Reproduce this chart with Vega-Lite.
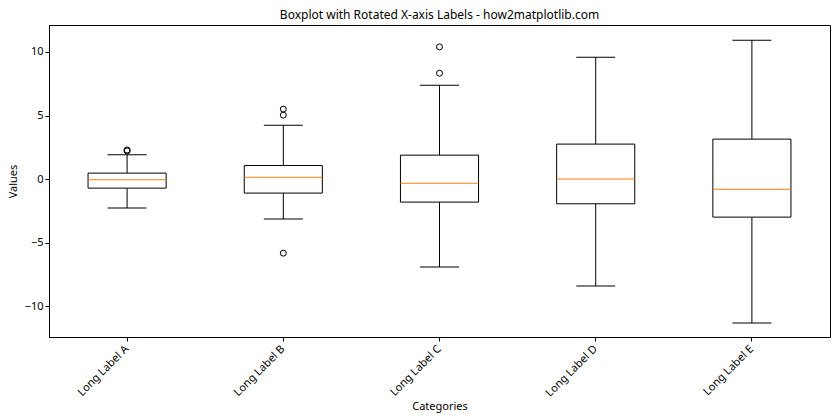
{
  "$schema": "https://vega.github.io/schema/vega-lite/v6.json",
  "autosize": "none",
  "width": 781,
  "height": 312,
  "padding": {"left": 49, "top": 25, "right": 10, "bottom": 83},
  "background": "white",
  "config": {
    "font": "Noto Sans",
    "view": {"stroke": "black", "strokeWidth": 1},
    "axis": {
      "grid": false,
      "domainColor": "black",
      "tickColor": "black",
      "labelColor": "black",
      "titleColor": "black",
      "labelFontSize": 11,
      "titleFontSize": 11,
      "titleFontWeight": "normal",
      "tickSize": 4
    }
  },
  "title": {"text": "Boxplot with Rotated X-axis Labels - how2matplotlib.com", "fontSize": 12, "fontWeight": "normal", "color": "black", "offset": 3},
  "datasets": {
    "boxes": [
      {"cat": "Long Label A", "lower": -2.27, "q1": -0.70, "median": -0.05, "q3": 0.48, "upper": 1.92},
      {"cat": "Long Label B", "lower": -3.13, "q1": -1.09, "median": 0.16, "q3": 1.08, "upper": 4.25},
      {"cat": "Long Label C", "lower": -6.90, "q1": -1.80, "median": -0.31, "q3": 1.89, "upper": 7.39},
      {"cat": "Long Label D", "lower": -8.40, "q1": -1.93, "median": 0.01, "q3": 2.76, "upper": 9.59},
      {"cat": "Long Label E", "lower": -11.30, "q1": -2.98, "median": -0.78, "q3": 3.15, "upper": 10.93}
    ],
    "outliers": [
      {"cat": "Long Label A", "value": 2.22},
      {"cat": "Long Label A", "value": 2.30},
      {"cat": "Long Label B", "value": 5.51},
      {"cat": "Long Label B", "value": 5.04},
      {"cat": "Long Label B", "value": -5.81},
      {"cat": "Long Label C", "value": 10.40},
      {"cat": "Long Label C", "value": 8.33}
    ]
  },
  "encoding": {
    "x": {
      "field": "cat", "type": "nominal", "sort": null,
      "scale": {"type": "band", "paddingInner": 0, "paddingOuter": 0},
      "axis": {"title": "Categories", "labelAngle": -45, "labelAlign": "right", "labelBaseline": "middle", "labelPadding": 6, "titlePadding": 2}
    }
  },
  "layer": [
    {
      "data": {"name": "boxes"},
      "mark": {"type": "rule", "color": "black", "strokeWidth": 1},
      "encoding": {
        "y": {"field": "lower", "type": "quantitative", "scale": {"domain": [-12.4, 12.12], "nice": false, "zero": false},
              "axis": {"title": "Values", "values": [-10, -5, 0, 5, 10], "titlePadding": 6}},
        "y2": {"field": "q1"}
      }
    },
    {
      "data": {"name": "boxes"},
      "mark": {"type": "rule", "color": "black", "strokeWidth": 1},
      "encoding": {"y": {"field": "q3", "type": "quantitative"}, "y2": {"field": "upper"}}
    },
    {
      "data": {"name": "boxes"},
      "mark": {"type": "tick", "color": "black", "size": 39, "thickness": 1, "opacity": 1},
      "encoding": {"y": {"field": "upper", "type": "quantitative"}}
    },
    {
      "data": {"name": "boxes"},
      "mark": {"type": "tick", "color": "black", "size": 39, "thickness": 1, "opacity": 1},
      "encoding": {"y": {"field": "lower", "type": "quantitative"}}
    },
    {
      "data": {"name": "boxes"},
      "mark": {"type": "bar", "width": {"band": 0.5}, "fill": "white", "stroke": "black", "strokeWidth": 1},
      "encoding": {"y": {"field": "q1", "type": "quantitative"}, "y2": {"field": "q3"}}
    },
    {
      "data": {"name": "boxes"},
      "mark": {"type": "tick", "color": "#ff7f0e", "size": 78, "thickness": 1, "opacity": 1},
      "encoding": {"y": {"field": "median", "type": "quantitative"}}
    },
    {
      "data": {"name": "outliers"},
      "mark": {"type": "point", "shape": "circle", "filled": false, "stroke": "black", "strokeWidth": 1, "size": 36, "opacity": 1},
      "encoding": {"y": {"field": "value", "type": "quantitative"}}
    }
  ]
}
